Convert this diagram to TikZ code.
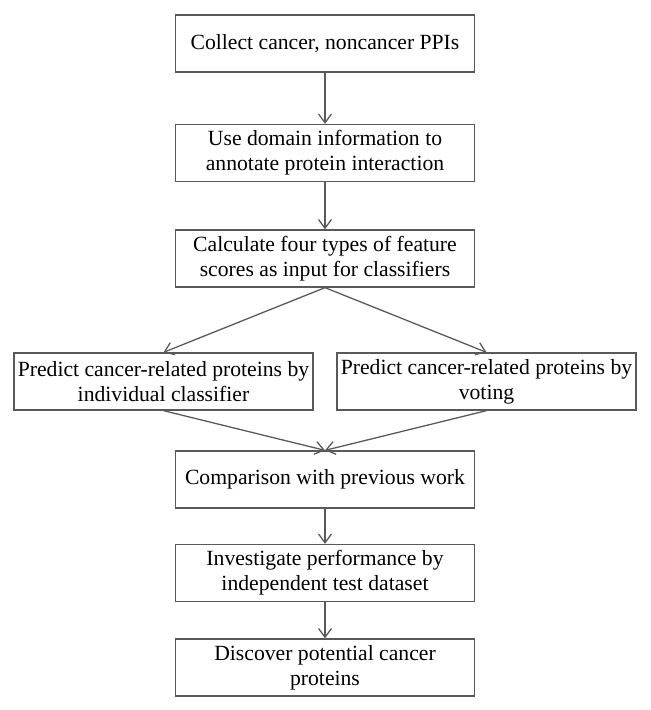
\documentclass[tikz,border=0pt]{standalone}
\usepackage{fontspec}
\setmainfont{Liberation Serif}
\usetikzlibrary{arrows.meta}

\begin{document}
\begin{tikzpicture}[x=0.03cm, y=-0.03cm]
            \tikzstyle{stepbox}=[rectangle, draw=black!65, line width=1.1pt,
            align=center, minimum width=8.97cm, minimum height=1.71cm,
            inner sep=1pt, font=\fontsize{18.5}{21.5}\selectfont]
            \tikzstyle{arr}=[draw=black!65, line width=1.1pt,
            -{Straight Barb[length=7.5pt,width=11pt]}]
            \useasboundingbox (0,0) rectangle (650,710);

            \node[stepbox] (collect) at (325,43.5) {Collect cancer, noncancer PPIs};
            \node[stepbox] (domain) at (325,153) {Use domain information to\\annotate protein interaction};
            \node[stepbox] (feature) at (325,258.5) {Calculate four types of feature\\scores as input for classifiers};
            \node[stepbox] (single) at (163.5,381.5) {Predict cancer-related proteins by\\individual classifier};
            \node[stepbox] (voting) at (486.5,381.5) {Predict cancer-related proteins by\\voting};
            \node[stepbox] (compare) at (325,479.5) {Comparison with previous work};
            \node[stepbox] (test) at (325,573) {Investigate performance by\\independent test dataset};
            \node[stepbox] (discover) at (325,667.5) {Discover potential cancer\\proteins};

            \foreach \a/\b in {collect/domain, domain/feature, feature/single,
            feature/voting, single/compare, voting/compare, compare/test, test/discover}
            \path (\a.south) edge[arr] (\b.north);
        \end{tikzpicture}
\end{document}
